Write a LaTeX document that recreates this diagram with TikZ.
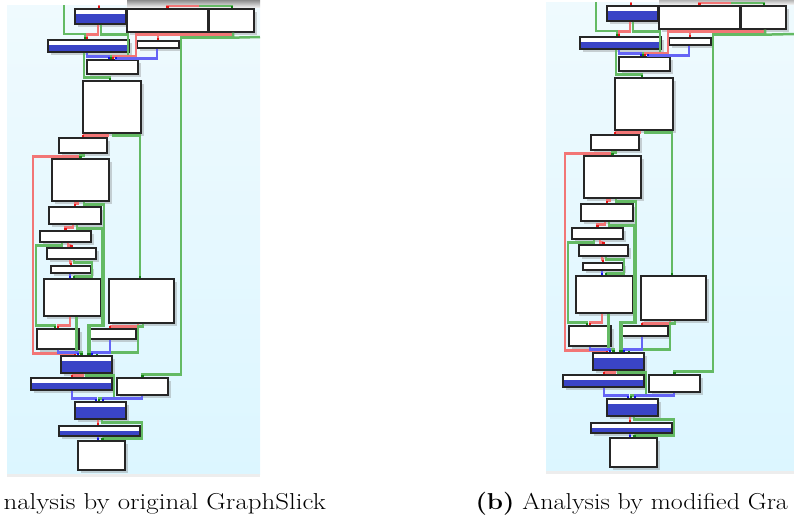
\documentclass[tikz,border=0pt]{standalone}
\usepackage{tikz}
\usetikzlibrary{arrows.meta, shadows}
\definecolor{bgtop}{RGB}{239,250,254}
\definecolor{bgbot}{RGB}{220,246,255}
\definecolor{boxblue}{RGB}{58,68,198}
\definecolor{lnred}{RGB}{242,118,118}
\definecolor{lngreen}{RGB}{100,186,100}
\definecolor{lnblue}{RGB}{100,100,245}
\definecolor{dotred}{RGB}{230,20,20}
\definecolor{dotgreen}{RGB}{20,130,20}
\definecolor{dotblue}{RGB}{20,20,230}

\begin{document}
\begin{tikzpicture}[x=1pt, y=-1pt,
		blk/.style={rectangle, draw=black!85, line width=1.3pt, fill=white, inner sep=0pt,
			drop shadow={shadow xshift=2.5pt, shadow yshift=-2.5pt, opacity=0.35}},
		bblk/.style={blk, path picture={\fill[boxblue] ([yshift=-5pt]path picture bounding box.north west) rectangle (path picture bounding box.south east);}},
		redge/.style={lnred, line width=2.5pt, -{Square[length=2.6pt, color=dotred]}},
		gedge/.style={lngreen, line width=2.5pt, -{Square[length=2.6pt, color=dotgreen]}},
		bedge/.style={lnblue, line width=2.5pt, -{Square[length=2.6pt, color=dotblue]}},
		captext/.style={anchor=base west, font=\fontsize{23}{27}\selectfont}
		]
		\useasboundingbox (0,0) rectangle (794,520);
		
		% both panels, the right one shifted
		\foreach \p/\dx/\dy/\lx/\rx in {l/0/0/7/260, r/532/-3/14/262} {
			\begin{scope}[shift={(\dx,\dy)}]
				\shade[top color=bgtop, bottom color=bgbot] (\lx,5) rectangle (\rx,474);
				\fill[black!7] (\lx,474) rectangle (\rx,477);
				\shade[top color=black!45, bottom color=black!8] (127,0) rectangle (\rx,7);
				
				\coordinate (\p in1) at (64,5);
				\coordinate (\p in2) at (99,5);
				\coordinate (\p in3) at (198,5);
				\coordinate (\p in4) at (200,5);
				\coordinate (\p out1) at (\rx,37);
				
				\node[bblk, minimum width=51pt, minimum height=15pt] (\p A) at (100.5,16.5) {};
				\node[blk, minimum width=81pt, minimum height=23pt] (\p B) at (167.5,20.5) {};
				\node[blk, minimum width=45pt, minimum height=23pt] (\p C) at (231.5,20.5) {};
				\node[bblk, minimum width=81pt, minimum height=12pt] (\p D) at (88.5,46) {};
				\node[blk, minimum width=42pt, minimum height=7pt] (\p E) at (158,44.5) {};
				\node[blk, minimum width=51pt, minimum height=14pt] (\p F) at (112.5,67) {};
				\node[blk, minimum width=58pt, minimum height=52pt] (\p G) at (112,107) {};
				\node[blk, minimum width=48pt, minimum height=15pt] (\p H) at (83,145.5) {};
				\node[blk, minimum width=57pt, minimum height=42pt] (\p I) at (80.5,180) {};
				\node[blk, minimum width=52pt, minimum height=17pt] (\p J) at (75,215.5) {};
				\node[blk, minimum width=51pt, minimum height=11pt] (\p K) at (65.5,236.5) {};
				\node[blk, minimum width=49pt, minimum height=11pt] (\p L) at (71.5,253.5) {};
				\node[blk, minimum width=40pt, minimum height=7pt] (\p M) at (71,269.5) {};
				\node[blk, minimum width=57pt, minimum height=37pt] (\p N) at (72.5,297.5) {};
				\node[blk, minimum width=65pt, minimum height=44pt] (\p O) at (141.5,301) {};
				\node[blk, minimum width=42pt, minimum height=20pt] (\p P) at (58,339) {};
				\node[blk, minimum width=47pt, minimum height=10pt] (\p Q) at (112.5,334) {};
				\node[bblk, minimum width=51pt, minimum height=17pt] (\p R) at (86.5,364.5) {};
				\node[bblk, minimum width=81pt, minimum height=12pt] (\p S) at (71.5,384) {};
				\node[blk, minimum width=51pt, minimum height=17pt] (\p T) at (142.5,386.5) {};
				\node[bblk, minimum width=51pt, minimum height=17pt] (\p U) at (100.5,410.5) {};
				\node[bblk, minimum width=81pt, minimum height=10pt] (\p V) at (99.5,431) {};
				\node[blk, minimum width=47pt, minimum height=29pt] (\p W) at (101.5,455.5) {};
				
				% incoming from above
				\draw[gedge] (\p in1) -- ++(0,29) -| ([xshift=-3pt]\p D.north);
				\draw[redge] (\p in2) -- ([xshift=-1.5pt]\p A.north);
				\draw[redge] (\p in3) -- ++(0,1) -| (\p B.north);
				\draw[gedge] (\p in4) -- ++(0,1) -| ([xshift=0.5pt]\p C.north);
				
				\draw[redge] ([xshift=-2.5pt]\p A.south) -- ++(0,10) -| ([xshift=-1.5pt]\p D.north);
				\draw[gedge] ([xshift=0.5pt]\p A.south) -- ++(0,10) -- ++(27,0) -- ++(0,22) -| ([xshift=-1.5pt]\p F.north);
				\draw[redge] ([xshift=-9.5pt]\p B.south) -- (\p E.north);
				\draw[redge] ([xshift=-0.5pt]\p C.south) -- ++(0,2) -- ++(-95,0) -- ++(0,22) -| ([xshift=0.5pt]\p F.north);
				\draw[gedge] ([xshift=1.5pt]\p C.south) -- ++(0,5) -- ++(-52,0) -- ++(0,337) -| (\p T.north);
				\draw[gedge, -] ([xshift=1.5pt]\p C.south) -- ++(0,5) -- (\p out1);
				\draw[bedge] ([xshift=-1.5pt]\p D.south) -- ++(0,4) -| ([xshift=-3.5pt]\p F.north);
				\draw[gedge] ([xshift=-4.5pt]\p D.south) -- ++(0,25) -| ([xshift=-2pt]\p G.north);
				\draw[bedge] ([xshift=-1pt]\p E.south) -- ++(0,10) -| ([xshift=3.5pt]\p F.north);
				
				\draw[redge] ([xshift=-4pt]\p G.south) -- ++(0,2) -| (\p H.north);
				\draw[gedge] ([xshift=1pt]\p G.south) -- ++(0,2) -- ++(27,0) -| ([xshift=-1.5pt]\p O.north);
				\draw[redge] ([xshift=-3pt]\p H.south) -- ++(0,3) -- ++(-47,0) -- ++(0,197) -| ([xshift=-11.5pt]\p R.north);
				\draw[gedge] ([xshift=0.5pt]\p H.south) -- ++(0,2) -| (\p I.north);
				\draw[redge] ([xshift=-2.5pt]\p I.south) -- ++(0,2) -| (\p J.north);
				\draw[gedge] ([xshift=3.5pt]\p I.south) -- ++(0,3) -- ++(20,0) -- ++(0,121) -| ([xshift=3.5pt]\p R.north);
				\draw[redge] ([xshift=-2pt]\p J.south) -- ++(0,3) -| (\p K.north);
				\draw[gedge] ([xshift=2pt]\p J.south) -- ++(0,4) -- ++(25,0) -- ++(0,97) -| ([xshift=1.5pt]\p R.north);
				\draw[redge] ([xshift=2.5pt]\p K.south) -- ++(0,3) -| (\p L.north);
				\draw[gedge] ([xshift=-3.5pt]\p K.south) -- ++(0,3) -- ++(-26,0) -- ++(0,80) -| ([xshift=-3pt]\p P.north);
				\draw[redge] ([xshift=-1.5pt]\p L.south) -- ++(0,3) -| (\p M.north);
				\draw[gedge] ([xshift=2.5pt]\p L.south) -- ++(0,3) -- ++(18,0) -- ++(0,14) -| ([xshift=1.5pt]\p N.north);
				\draw[bedge] ([xshift=-1pt]\p M.south) -- ([xshift=-2.5pt]\p N.north);
				
				\draw[redge] ([xshift=-2.5pt]\p N.south) -- ++(0,9) -| (\p P.north);
				\draw[gedge] ([xshift=4pt]\p N.south) -- ++(0,36) -| ([xshift=-5pt]\p R.north);
				\draw[redge] ([xshift=-3.5pt]\p O.south) -- ++(0,3) -| ([xshift=-2.5pt]\p Q.north);
				\draw[gedge] ([xshift=1.5pt]\p O.south) -- ++(0,3) -- ++(-5,0) -- ++(0,26) -| ([xshift=10.5pt]\p R.north);
				\draw[bedge] (\p P.south) -- ++(0,3) -| ([xshift=-8.5pt]\p R.north);
				\draw[bedge] ([xshift=-2.5pt]\p Q.south) -- ++(0,13) -| ([xshift=5.5pt]\p R.north);
				
				\draw[redge] ([xshift=-3.5pt]\p R.south) -- ++(0,2) -| ([xshift=0.5pt]\p S.north);
				\draw[gedge] ([xshift=-0.5pt]\p R.south) -- ++(0,2) -- ++(28,0) -- ++(0,23) -| ([xshift=-1.5pt]\p U.north);
				\draw[bedge] ([xshift=0.5pt]\p S.south) -- ++(0,8) -| ([xshift=-4.5pt]\p U.north);
				\draw[bedge] ([xshift=-0.5pt]\p T.south) -- ++(0,3) -| ([xshift=2.5pt]\p U.north);
				\draw[redge] ([xshift=-2.5pt]\p U.south) -- ([xshift=-1.5pt]\p V.north);
				\draw[gedge] ([xshift=1.5pt]\p U.south) -- ++(0,3) -- ++(40,0) -- ++(0,16) -| ([xshift=1pt]\p W.north);
				\draw[bedge] ([xshift=-1.5pt]\p V.south) -- ([xshift=-3.5pt]\p W.north);
			\end{scope}
		}
		
		\node[captext] (capa) at (0,509) {\scalebox{1.17}[1]{nalysis by original GraphSlick}};
		\node[captext] (capb) at (472,509) {\scalebox{1.13}[1]{\textbf{(b)} Analysis by modified Gra}};
	\end{tikzpicture}
\end{document}
